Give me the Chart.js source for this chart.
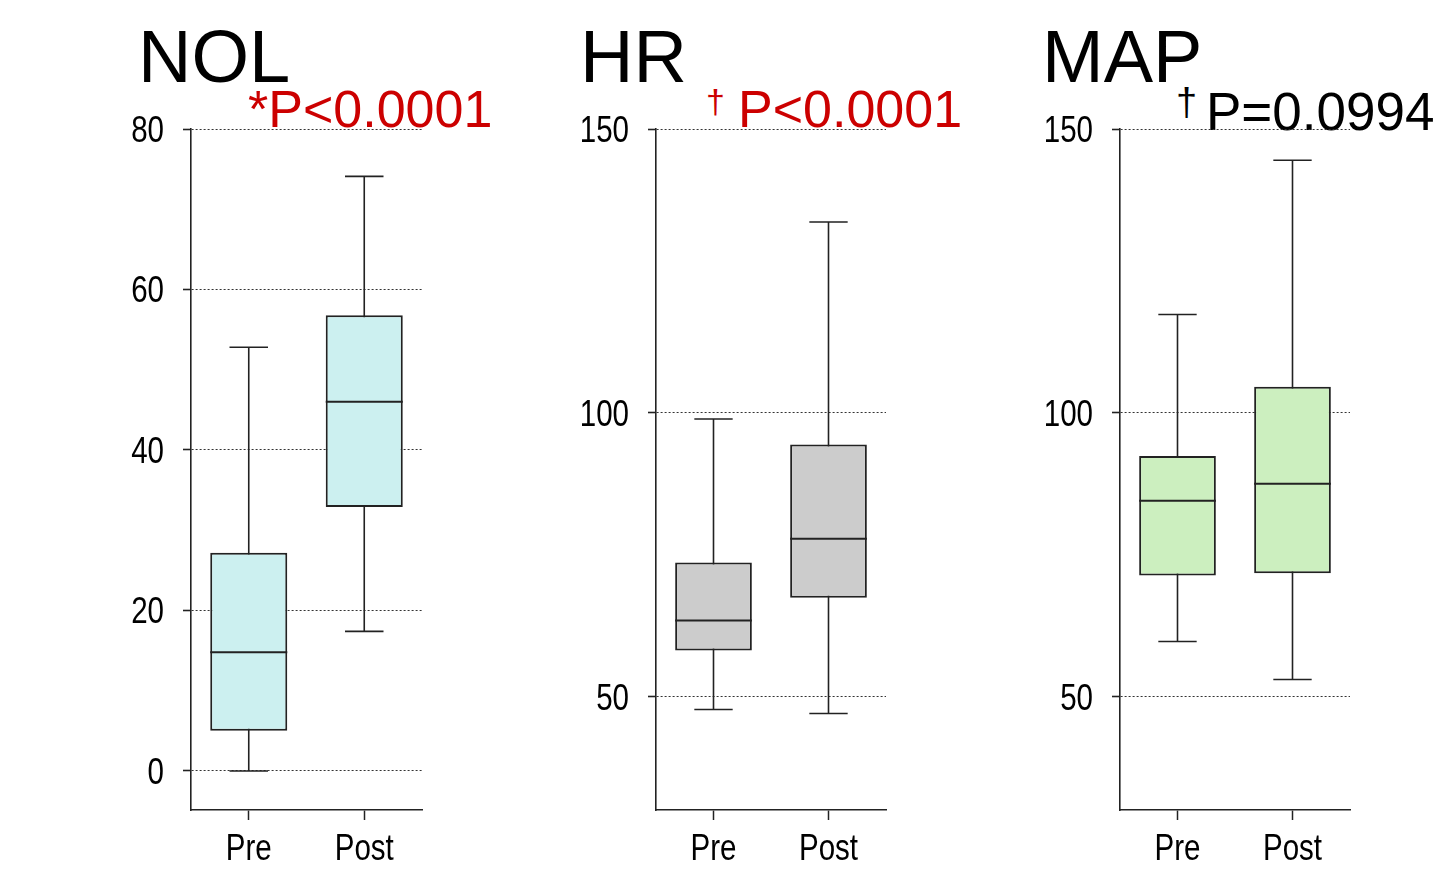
<!DOCTYPE html>
<html>
<head>
<meta charset="utf-8">
<script src="https://cdn.jsdelivr.net/npm/chart.js@4/dist/chart.umd.min.js"></script>
<style>
  body { margin: 0; background: #fff; width: 1440px; height: 870px; position: relative; overflow: hidden;
         font-family: "Liberation Sans", Arial, sans-serif; }
  canvas { position: absolute; top: 109px; }
  .title { position: absolute; font-size: 74px; line-height: 1; color: #000; white-space: nowrap; }
  .pval { position: absolute; font-size: 52px; line-height: 1; white-space: nowrap; }
  .dag { position: absolute; font-size: 34px; line-height: 1; }
  .red { color: #cc0000; }
</style>
</head>
<body>
<div class="title" style="left:138px;top:20px">NOL</div>
<div class="title" style="left:580px;top:20px">HR</div>
<div class="title" style="left:1042px;top:20px">MAP</div>

<div class="pval red" style="left:248px;top:83px">*P&lt;0.0001</div>
<div class="dag red" style="left:706px;top:84px">†</div>
<div class="pval red" style="left:738px;top:83px">P&lt;0.0001</div>
<div class="dag" style="left:1176px;top:83px;font-size:38px">†</div>
<div class="pval" style="left:1206px;top:85px;font-size:53px">P=0.0994</div>

<canvas id="nol" width="331" height="761" style="left:101px"></canvas>
<canvas id="hr" width="330" height="761" style="left:566px"></canvas>
<canvas id="map" width="330" height="761" style="left:1030px"></canvas>

<script>
// groups on the x axis
const groups = ["Pre", "Post"];

// NOL
const nolMin = [0, 17.4];
const nolQ1 = [5.0, 32.9];
const nolMed = [14.8, 46.0];
const nolQ3 = [27.2, 56.8];
const nolMax = [52.8, 74.1];
const nolTicks = [0, 20, 40, 60, 80];

// HR
const hrMin = [47.7, 47.0];
const hrQ1 = [58.1, 67.4];
const hrMed = [63.4, 77.8];
const hrQ3 = [73.6, 94.4];
const hrMax = [98.9, 133.6];

// MAP
const mapMin = [59.7, 53.0];
const mapQ1 = [71.3, 71.7];
const mapMed = [84.5, 87.5];
const mapQ3 = [92.4, 104.6];
const mapMax = [117.3, 144.5];

const vitalTicks = [50, 100, 150];

const INK = "#222";
const labelFont = "36px 'Liberation Sans', Arial, sans-serif";

// whiskers behind the box, median on top, narrow axis labels last
function boxPlugin(mins, meds, maxs) {
    return {
        id: "boxPlot",
        beforeDatasetsDraw(chart) {
            const ctx = chart.ctx;
            const y = chart.scales.y;
            ctx.save();
            ctx.strokeStyle = INK;
            ctx.lineWidth = 1.6;
            chart.getDatasetMeta(0).data.forEach((bar, i) => {
                const cap = bar.width / 4;
                const lo = y.getPixelForValue(mins[i]);
                const hi = y.getPixelForValue(maxs[i]);
                ctx.beginPath();
                ctx.moveTo(bar.x, lo); ctx.lineTo(bar.x, hi);
                ctx.moveTo(bar.x - cap, lo); ctx.lineTo(bar.x + cap, lo);
                ctx.moveTo(bar.x - cap, hi); ctx.lineTo(bar.x + cap, hi);
                ctx.stroke();
            });
            ctx.restore();
        },
        afterDatasetsDraw(chart) {
            const ctx = chart.ctx;
            const y = chart.scales.y;
            ctx.save();
            ctx.strokeStyle = INK;
            ctx.lineWidth = 2;
            chart.getDatasetMeta(0).data.forEach((bar, i) => {
                const m = y.getPixelForValue(meds[i]);
                ctx.beginPath();
                ctx.moveTo(bar.x - bar.width / 2, m);
                ctx.lineTo(bar.x + bar.width / 2, m);
                ctx.stroke();
            });
            ctx.restore();
        },
        afterDraw(chart) {
            const ctx = chart.ctx;
            const { x, y } = chart.scales;
            const area = chart.chartArea;
            ctx.save();
            ctx.fillStyle = "#000";
            ctx.font = labelFont;
            y.ticks.forEach((t) => {
                ctx.save();
                ctx.translate(area.left - 27, y.getPixelForValue(t.value) + 13);
                ctx.scale(0.82, 1);
                ctx.textAlign = "right";
                ctx.fillText(String(t.value), 0, 0);
                ctx.restore();
            });
            groups.forEach((g, i) => {
                ctx.save();
                ctx.translate(x.getPixelForValue(i), area.bottom + 50);
                ctx.scale(0.82, 1);
                ctx.textAlign = "center";
                ctx.fillText(g, 0, 0);
                ctx.restore();
            });
            ctx.restore();
        }
    };
}

function crearPanel(id, q1, q3, mins, meds, maxs, ticks, yMin, yMax, fill) {
    new Chart(document.getElementById(id), {
        type: "bar",
        data: {
            labels: groups,
            datasets: [{
                data: q1.map((v, i) => [v, q3[i]]),
                backgroundColor: fill,
                borderColor: INK,
                borderWidth: 2,
                borderSkipped: false,
                barPercentage: 0.667,
                categoryPercentage: 1
            }]
        },
        options: {
            responsive: false,
            animation: false,
            layout: { padding: { top: 20, right: 10, left: 0, bottom: 0 } },
            plugins: { legend: { display: false }, tooltip: { enabled: false } },
            scales: {
                x: {
                    offset: true,
                    grid: { drawOnChartArea: false, offset: false, tickLength: 10,
                            tickColor: INK, tickWidth: 1.5, tickBorderDash: [] },
                    border: { color: INK, width: 1.6 },
                    ticks: { display: false },
                    afterFit: (s) => { s.height = 60; }
                },
                y: {
                    min: yMin,
                    max: yMax,
                    afterBuildTicks: (s) => { s.ticks = ticks.map((v) => ({ value: v })); },
                    afterFit: (s) => { s.width = 90; },
                    grid: { color: "#333", lineWidth: 1, tickLength: 8,
                            tickColor: INK, tickWidth: 1.6, tickBorderDash: [] },
                    border: { color: INK, width: 1.6, dash: [2, 2] },
                    ticks: { display: false }
                }
            }
        },
        plugins: [boxPlugin(mins, meds, maxs)]
    });
}

crearPanel("nol", nolQ1, nolQ3, nolMin, nolMed, nolMax, nolTicks, -4.86, 80, "#ccf0f0");
crearPanel("hr", hrQ1, hrQ3, hrMin, hrMed, hrMax, vitalTicks, 30, 150, "#cccccc");
crearPanel("map", mapQ1, mapQ3, mapMin, mapMed, mapMax, vitalTicks, 30, 150, "#ccefbf");
</script>
</body>
</html>
